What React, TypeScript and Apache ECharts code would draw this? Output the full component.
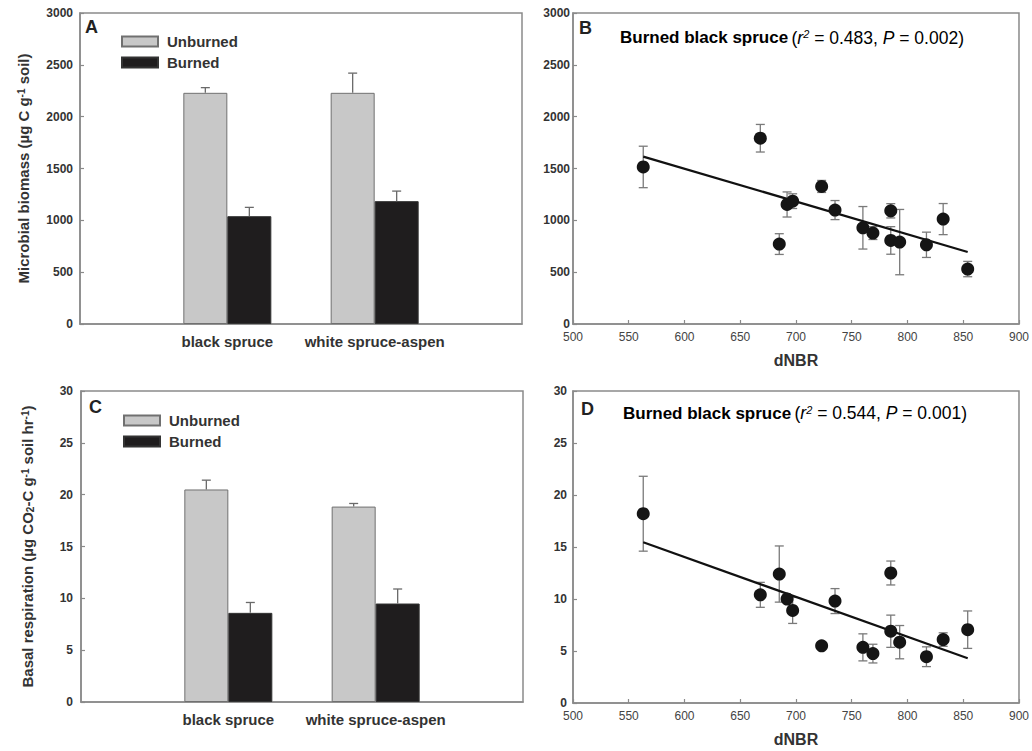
import React, { useEffect, useRef } from "react";
import * as echarts from "echarts";

// ---- Data ----
const groups = ["black spruce", "white spruce-aspen"];
const biomassUnburned = [2230, 2230];
const biomassUnburnedErr = [50, 190];
const biomassBurned = [1040, 1185];
const biomassBurnedErr = [85, 97];
const respUnburned = [20.5, 18.85];
const respUnburnedErr = [0.9, 0.3];
const respBurned = [8.6, 9.5];
const respBurnedErr = [1.0, 1.4];

const dNBR = [563, 668, 685, 692, 697, 723, 735, 760, 769, 785, 785, 793, 817, 832, 854];
const burnedBiomass = [1515, 1792, 771, 1153, 1185, 1327, 1099, 928, 877, 1092, 806, 790, 764, 1012, 530];
const burnedBiomassErr = [200, 133, 100, 121, 71, 58, 92, 205, 62, 69, 133, 315, 122, 150, 74];
const burnedResp = [18.2, 10.4, 12.4, 10.0, 8.9, 5.5, 9.8, 5.35, 4.75, 12.5, 6.9, 5.85, 4.45, 6.1, 7.05];
const burnedRespErr = [3.6, 1.2, 2.7, 0.3, 1.25, 0.1, 1.2, 1.3, 0.9, 1.15, 1.55, 1.6, 0.95, 0.65, 1.8];

const fitX = [563, 854];
const biomassFit = [1615, 695];
const respFit = [15.45, 4.3];

const biomassTicks = { min: 0, max: 3000, interval: 500 };
const respTicks = { min: 0, max: 30, interval: 5 };
const dnbrTicks = { min: 500, max: 900, interval: 50 };

// ---- Styles ----
const FONT = "Liberation Sans, Arial, Helvetica, sans-serif";
const FRAME = "#8a8a8a";
const TEXT = "#333";
const BAR_W = 44;
const CAP = 9;
const ERR_COLOR = "#6a6a6a";
const plain = (v: number) => String(v);

function barErr(shift: number) {
  return (params: any, api: any) => {
    const c = api.coord([api.value(0), api.value(1)]);
    const t = api.coord([api.value(0), api.value(1) + api.value(2)]);
    const x = c[0] + (shift * BAR_W) / 2;
    const style = { stroke: ERR_COLOR, lineWidth: 1.3 };
    return {
      type: "group",
      children: [
        { type: "line", shape: { x1: x, y1: c[1], x2: x, y2: t[1] }, style },
        { type: "line", shape: { x1: x - CAP / 2, y1: t[1], x2: x + CAP / 2, y2: t[1] }, style },
      ],
    };
  };
}

function scatterErr(params: any, api: any) {
  const lo = api.coord([api.value(0), api.value(1) - api.value(2)]);
  const hi = api.coord([api.value(0), api.value(1) + api.value(2)]);
  const x = lo[0];
  const style = { stroke: "#7a7a7a", lineWidth: 1.3 };
  return {
    type: "group",
    children: [
      { type: "line", shape: { x1: x, y1: lo[1], x2: x, y2: hi[1] }, style },
      { type: "line", shape: { x1: x - CAP / 2, y1: hi[1], x2: x + CAP / 2, y2: hi[1] }, style },
      { type: "line", shape: { x1: x - CAP / 2, y1: lo[1], x2: x + CAP / 2, y2: lo[1] }, style },
    ],
  };
}

const axisLine = { show: true, lineStyle: { color: FRAME, width: 1.5 } };
const yTick = { show: true, inside: true, length: 4, lineStyle: { color: FRAME, width: 1.2 } };

function catXAxis(gridIndex: number) {
  return {
    type: "category",
    gridIndex,
    data: ["", ...groups, ""],
    boundaryGap: false,
    axisLine,
    axisTick: { show: false },
    axisLabel: { interval: 0, fontSize: 15, fontWeight: "bold", color: TEXT, fontFamily: FONT, margin: 10 },
    splitLine: { show: false },
  };
}

function dnbrXAxis(gridIndex: number) {
  return {
    type: "value",
    gridIndex,
    ...dnbrTicks,
    axisLine,
    axisTick: yTick,
    axisLabel: { fontSize: 12, color: "#444", fontFamily: FONT, margin: 7, formatter: plain },
    splitLine: { show: false },
    name: "dNBR",
    nameLocation: "middle",
    nameGap: 28,
    nameTextStyle: { fontSize: 16, fontWeight: "bold", color: TEXT, fontFamily: FONT },
  };
}

function valYAxis(gridIndex: number, ticks: any, margin: number, name?: string, nameGap?: number, rich?: any) {
  return {
    type: "value",
    gridIndex,
    ...ticks,
    axisLine,
    axisTick: yTick,
    axisLabel: { fontSize: 12, fontWeight: "bold", color: TEXT, fontFamily: FONT, margin, formatter: plain },
    splitLine: { show: false },
    name,
    nameLocation: "middle",
    nameRotate: 90,
    nameGap,
    nameTextStyle: { rich },
  };
}

const nameRich = {
  b: { fontSize: 15, fontWeight: "bold", color: TEXT, fontFamily: FONT },
  sup: { fontSize: 10, fontWeight: "bold", color: TEXT, fontFamily: FONT, verticalAlign: "top" },
  sub: { fontSize: 10, fontWeight: "bold", color: TEXT, fontFamily: FONT, verticalAlign: "bottom" },
};

const titleRich = {
  b: { fontSize: 17, fontWeight: "bold", color: TEXT, fontFamily: FONT },
  n: { fontSize: 17.5, color: TEXT, fontFamily: FONT },
  i: { fontSize: 17.5, fontStyle: "italic", color: TEXT, fontFamily: FONT },
  sup: { fontSize: 11, fontStyle: "italic", color: TEXT, fontFamily: FONT, verticalAlign: "top" },
};

function letter(ch: string, x: number, y: number) {
  return {
    type: "text",
    x,
    y,
    style: { text: ch, fontSize: 18, fontWeight: "bold", fill: "#222", fontFamily: FONT, textVerticalAlign: "middle" },
  };
}

function title(r2: string, p: string, x: number, y: number) {
  return {
    type: "text",
    x,
    y,
    style: {
      text: `{b|Burned black spruce} {n|(}{i|r}{sup|2}{n| = ${r2}, }{i|P}{n| = ${p})}`,
      rich: titleRich,
      textVerticalAlign: "middle",
    },
  };
}

function legend(left: number, top: number) {
  return {
    left,
    top,
    orient: "vertical",
    data: ["Unburned", "Burned"],
    icon: "rect",
    itemWidth: 36,
    itemHeight: 10,
    itemGap: 6,
    selectedMode: false,
    textStyle: { fontSize: 15, fontWeight: "bold", color: TEXT, fontFamily: FONT, lineHeight: 15, padding: [0, 0, 0, 4] },
  };
}

const unburnedStyle = { color: "#c8c8c8", borderColor: "#707070", borderWidth: 1 };
const burnedStyle = { color: "#1f1d1e", borderColor: "#333", borderWidth: 1 };

function barSeries(gridIdx: number, unb: number[], unbErr: number[], bur: number[], burErr: number[]) {
  return [
    {
      type: "bar", name: "Unburned", xAxisIndex: gridIdx, yAxisIndex: gridIdx,
      data: ["-", ...unb, "-"], barWidth: BAR_W, barGap: "0%", itemStyle: unburnedStyle,
    },
    {
      type: "bar", name: "Burned", xAxisIndex: gridIdx, yAxisIndex: gridIdx,
      data: ["-", ...bur, "-"], barWidth: BAR_W, barGap: "0%", itemStyle: burnedStyle,
    },
    {
      type: "custom", xAxisIndex: gridIdx, yAxisIndex: gridIdx, z: 3,
      renderItem: barErr(-1), data: unb.map((v, i) => [i + 1, v, unbErr[i]]),
      encode: { x: 0, y: 1 }, silent: true,
    },
    {
      type: "custom", xAxisIndex: gridIdx, yAxisIndex: gridIdx, z: 3,
      renderItem: barErr(1), data: bur.map((v, i) => [i + 1, v, burErr[i]]),
      encode: { x: 0, y: 1 }, silent: true,
    },
  ];
}

function scatterSeries(gridIdx: number, ys: number[], errs: number[], fit: number[]) {
  return [
    {
      type: "custom", xAxisIndex: gridIdx, yAxisIndex: gridIdx, z: 2,
      renderItem: scatterErr, data: dNBR.map((x, i) => [x, ys[i], errs[i]]),
      encode: { x: 0, y: 1 }, silent: true,
    },
    {
      type: "line", xAxisIndex: gridIdx, yAxisIndex: gridIdx, z: 3,
      data: fitX.map((x, i) => [x, fit[i]]), showSymbol: false, symbol: "none",
      lineStyle: { color: "#111", width: 2.2 },
    },
    {
      type: "scatter", xAxisIndex: gridIdx, yAxisIndex: gridIdx, z: 4,
      data: dNBR.map((x, i) => [x, ys[i]]), symbolSize: 13,
      itemStyle: { color: "#151515", opacity: 1 },
    },
  ];
}

export default function App() {
  const ref = useRef<HTMLDivElement>(null);
  useEffect(() => {
    document.body.style.margin = "0";
    const chart = echarts.init(ref.current!, undefined, { renderer: "svg" });
    const gridBase = { show: true, borderColor: FRAME, borderWidth: 1.5, backgroundColor: "transparent" };
    chart.setOption({
      animation: false,
      backgroundColor: "#fff",
      textStyle: { fontFamily: FONT },
      grid: [
        { ...gridBase, left: 80, top: 13, width: 442, height: 311 },
        { ...gridBase, left: 573, top: 13, width: 446, height: 311 },
        { ...gridBase, left: 81, top: 391, width: 442, height: 311 },
        { ...gridBase, left: 573, top: 391, width: 446, height: 312 },
      ],
      xAxis: [catXAxis(0), dnbrXAxis(1), catXAxis(2), dnbrXAxis(3)],
      yAxis: [
        valYAxis(0, biomassTicks, 7, "{b|Microbial biomass (µg C g}{sup|-1}{b| soil)}", 49, nameRich),
        valYAxis(1, biomassTicks, 3),
        valYAxis(2, respTicks, 8, "{b|Basal respiration (µg CO}{sub|2}{b|-C g}{sup|-1}{b| soil hr}{sup|-1}{b|)}", 46, nameRich),
        valYAxis(3, respTicks, 6),
      ],
      legend: [legend(116, 29), legend(118, 408)],
      series: [
        ...barSeries(0, biomassUnburned, biomassUnburnedErr, biomassBurned, biomassBurnedErr),
        ...scatterSeries(1, burnedBiomass, burnedBiomassErr, biomassFit),
        ...barSeries(2, respUnburned, respUnburnedErr, respBurned, respBurnedErr),
        ...scatterSeries(3, burnedResp, burnedRespErr, respFit),
      ],
      graphic: [
        letter("A", 85, 26.5),
        letter("B", 579, 27.5),
        letter("C", 89, 406.5),
        letter("D", 581, 408.5),
        title("0.483", "0.002", 620, 37.5),
        title("0.544", "0.001", 623, 413.3),
      ],
    });
    return () => chart.dispose();
  }, []);
  return <div ref={ref} style={{ width: 1032, height: 751 }} />;
}
